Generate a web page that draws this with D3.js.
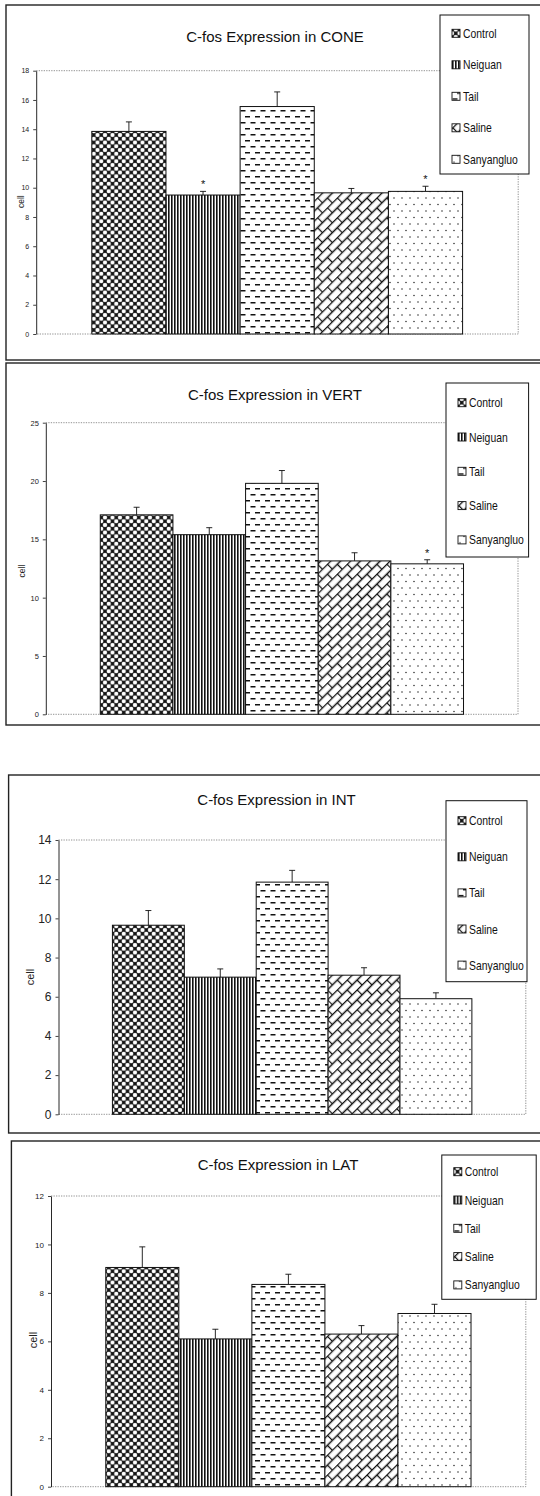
<!DOCTYPE html>
<html>
<head>
<meta charset="utf-8">
<script src="https://cdn.jsdelivr.net/npm/d3@7"></script>
<style>
  body { margin: 0; background: #fff; }
  svg { display: block; }
  .title { font-family: "Liberation Sans", Arial, sans-serif; fill: #111; }
  .legend text { font-family: "Liberation Sans", Arial, sans-serif; fill: #111; }
  .axis text { font-family: "Liberation Sans", Arial, sans-serif; fill: #222; }
  .ylab { font-family: "Liberation Sans", Arial, sans-serif; fill: #222; }
</style>
</head>
<body>
<script>
// groups shown in every panel
var groups = ["Control", "Neiguan", "Tail", "Saline", "Sanyangluo"];
var regions = ["CONE", "VERT", "INT", "LAT"];

// mean cell counts and error
var coneMean = [13.85, 9.5, 15.55, 9.65, 9.75];
var coneErr  = [0.65, 0.25, 1.0, 0.3, 0.35];
var coneStar = ["", "*", "", "", "*"];

var vertMean = [17.1, 15.4, 19.8, 13.15, 12.9];
var vertErr  = [0.65, 0.6, 1.1, 0.7, 0.35];
var vertStar = ["", "", "", "", "*"];

var intMean = [9.65, 7.0, 11.85, 7.1, 5.9];
var intErr  = [0.75, 0.42, 0.6, 0.38, 0.3];
var intStar = ["", "", "", "", ""];

var latMean = [9.05, 6.1, 8.35, 6.3, 7.15];
var latErr  = [0.85, 0.4, 0.42, 0.35, 0.38];
var latStar = ["", "", "", "", ""];

// y axis tick labels
var coneTicks = [0, 2, 4, 6, 8, 10, 12, 14, 16, 18];
var vertTicks = [0, 5, 10, 15, 20, 25];
var intTicks  = [0, 2, 4, 6, 8, 10, 12, 14];
var latTicks  = [0, 2, 4, 6, 8, 10, 12];

var means = [coneMean, vertMean, intMean, latMean];
var errs  = [coneErr, vertErr, intErr, latErr];
var stars = [coneStar, vertStar, intStar, latStar];
var ticks = [coneTicks, vertTicks, intTicks, latTicks];

// where each scanned panel sits on the page
var layout = [
  {frame: [6, 5, 560, 355],   plot: [36.2, 70.7, 518.2, 334],   titleX: 275, titleY: 37,
   tickFont: 7,   cellX: 20.7, cellY: 201.7, cellFont: 8.5,
   legend: [440, 15, 89, 159],   itemY: 33.3,   itemGap: 31.5},
  {frame: [6, 363, 560, 362], plot: [45.8, 422.7, 518, 714.3],  titleX: 275, titleY: 395,
   tickFont: 7.5, cellX: 22.4, cellY: 571, cellFont: 8.5,
   legend: [446, 383, 82.6, 174], itemY: 402.7, itemGap: 34.3},
  {frame: [8.6, 775, 560, 358], plot: [58.5, 840, 525.8, 1114.3], titleX: 276.5, titleY: 800,
   tickFont: 12,  cellX: 30.3, cellY: 977, cellFont: 11,
   legend: [446, 800.7, 81, 181], itemY: 820.7, itemGap: 36.1},
  {frame: [11.4, 1141, 560, 400], plot: [51, 1196, 525.8, 1486.7], titleX: 278, titleY: 1165,
   tickFont: 8,   cellX: 33.4, cellY: 1340, cellFont: 11,
   legend: [441.8, 1155, 94.4, 144.3], itemY: 1171.7, itemGap: 28.3}
];

var svg = d3.select("body").append("svg")
  .attr("width", 540)
  .attr("height", 1496);

svg.append("rect").attr("width", 540).attr("height", 1496).attr("fill", "#fff");

// hatch patterns, one per group
var defs = svg.append("defs");

var pCtrl = defs.append("pattern").attr("id", "pat-0")
  .attr("patternUnits", "userSpaceOnUse").attr("width", 7.5).attr("height", 7.5);
pCtrl.append("rect").attr("width", 7.5).attr("height", 7.5).attr("fill", "#111");
[[0, 0], [7.5, 0], [0, 7.5], [7.5, 7.5], [3.75, 3.75]].forEach(function(c) {
  pCtrl.append("circle").attr("cx", c[0]).attr("cy", c[1]).attr("r", 2.15).attr("fill", "#fff");
});

var pNei = defs.append("pattern").attr("id", "pat-1")
  .attr("patternUnits", "userSpaceOnUse").attr("width", 3).attr("height", 3);
pNei.append("rect").attr("width", 3).attr("height", 3).attr("fill", "#fff");
pNei.append("rect").attr("width", 1.6).attr("height", 3).attr("fill", "#111");

var pTail = defs.append("pattern").attr("id", "pat-2")
  .attr("patternUnits", "userSpaceOnUse").attr("width", 10).attr("height", 12);
pTail.append("rect").attr("width", 10).attr("height", 12).attr("fill", "#fff");
pTail.append("rect").attr("x", 0.5).attr("y", 2).attr("width", 5).attr("height", 1.5).attr("fill", "#111");
pTail.append("rect").attr("x", 5).attr("y", 8).attr("width", 5).attr("height", 1.5).attr("fill", "#111");

var pSal = defs.append("pattern").attr("id", "pat-3")
  .attr("patternUnits", "userSpaceOnUse").attr("width", 14).attr("height", 14)
  .attr("patternTransform", "rotate(-45)");
pSal.append("rect").attr("width", 14).attr("height", 14).attr("fill", "#fff");
pSal.append("path")
  .attr("d", "M0,0.5H14M0,7.5H14M0.5,0.5V7.5M7.5,7.5V14")
  .attr("stroke", "#111").attr("stroke-width", 1.3).attr("fill", "none");

var pSan = defs.append("pattern").attr("id", "pat-4")
  .attr("patternUnits", "userSpaceOnUse").attr("width", 8).attr("height", 13);
pSan.append("rect").attr("width", 8).attr("height", 13).attr("fill", "#fff");
pSan.append("circle").attr("cx", 2).attr("cy", 3).attr("r", 0.75).attr("fill", "#222");
pSan.append("circle").attr("cx", 6).attr("cy", 9.5).attr("r", 0.75).attr("fill", "#222");

// draw one panel
function panel(i) {
  var L = layout[i];
  var g = svg.append("g").attr("class", "panel");
  var l = L.plot[0], t = L.plot[1], r = L.plot[2], b = L.plot[3];
  var tv = ticks[i];

  // outer frame of the scanned figure
  g.append("rect")
    .attr("x", L.frame[0]).attr("y", L.frame[1])
    .attr("width", L.frame[2]).attr("height", L.frame[3])
    .attr("fill", "none").attr("stroke", "#222").attr("stroke-width", 1.4);

  var y = d3.scaleLinear().domain([0, d3.max(tv)]).range([b, t]);

  // single category holding the five bars
  var x0 = d3.scaleBand().domain(["all"]).range([l, r]).paddingInner(0).paddingOuter(0.15);
  var x = d3.scaleBand().domain(groups)
    .range([x0("all"), x0("all") + x0.bandwidth()]).padding(0);

  // dotted plot box (top, right, bottom)
  g.append("path")
    .attr("d", "M" + l + "," + t + "H" + r + "V" + b + "H" + l)
    .attr("fill", "none").attr("stroke", "#777")
    .attr("stroke-width", 0.8).attr("stroke-dasharray", "1.3,1.2");

  // title
  g.append("text").attr("class", "title")
    .attr("x", L.titleX).attr("y", L.titleY + 5)
    .attr("text-anchor", "middle").attr("font-size", 15)
    .text("C-fos Expression in " + regions[i]);

  // y axis
  var ax = g.append("g").attr("class", "axis")
    .attr("transform", "translate(" + l + ",0)")
    .call(d3.axisLeft(y).tickValues(tv).tickSize(3).tickSizeOuter(0).tickPadding(4));
  ax.selectAll("text").attr("font-size", L.tickFont);
  ax.select(".domain").attr("stroke", "#111").attr("stroke-width", 0.9);
  ax.selectAll(".tick line").attr("stroke", "#111").attr("stroke-width", 0.8);

  g.append("text").attr("class", "ylab")
    .attr("transform", "translate(" + L.cellX + "," + L.cellY + ") rotate(-90)")
    .attr("text-anchor", "middle").attr("dy", "0.35em")
    .attr("font-size", L.cellFont)
    .text("cell");

  var rows = groups.map(function(name, k) {
    return {name: name, k: k, v: means[i][k], e: errs[i][k], s: stars[i][k]};
  });

  // error bars, upper side only
  var eb = g.selectAll(".err").data(rows).enter().append("g").attr("class", "err");
  eb.append("line")
    .attr("x1", function(d) { return x(d.name) + x.bandwidth() / 2; })
    .attr("x2", function(d) { return x(d.name) + x.bandwidth() / 2; })
    .attr("y1", function(d) { return y(d.v); })
    .attr("y2", function(d) { return y(d.v + d.e); })
    .attr("stroke", "#111").attr("stroke-width", 0.9);
  eb.append("line")
    .attr("x1", function(d) { return x(d.name) + x.bandwidth() / 2 - 3; })
    .attr("x2", function(d) { return x(d.name) + x.bandwidth() / 2 + 3; })
    .attr("y1", function(d) { return y(d.v + d.e); })
    .attr("y2", function(d) { return y(d.v + d.e); })
    .attr("stroke", "#111").attr("stroke-width", 0.9);

  // bars
  g.selectAll(".bar").data(rows).enter().append("rect")
    .attr("class", "bar")
    .attr("x", function(d) { return x(d.name); })
    .attr("y", function(d) { return y(d.v); })
    .attr("width", x.bandwidth())
    .attr("height", function(d) { return y(0) - y(d.v); })
    .attr("fill", function(d) { return "url(#pat-" + d.k + ")"; })
    .attr("stroke", "#111").attr("stroke-width", 1);

  // significance stars
  g.selectAll(".star").data(rows.filter(function(d) { return d.s != ""; }))
    .enter().append("text")
    .attr("class", "title")
    .attr("x", function(d) { return x(d.name) + x.bandwidth() / 2; })
    .attr("y", function(d) { return y(d.v + d.e) - 3; })
    .attr("text-anchor", "middle").attr("font-size", 11)
    .text(function(d) { return d.s; });

  // legend box
  var lg = g.append("g").attr("class", "legend");
  lg.append("rect")
    .attr("x", L.legend[0]).attr("y", L.legend[1])
    .attr("width", L.legend[2]).attr("height", L.legend[3])
    .attr("fill", "#fff").attr("stroke", "#111").attr("stroke-width", 1);
  var items = lg.selectAll(".item").data(rows).enter().append("g")
    .attr("transform", function(d) {
      return "translate(" + (L.legend[0] + 12) + "," + (L.itemY + d.k * L.itemGap) + ")";
    });
  items.append("rect")
    .attr("x", 0).attr("y", -4).attr("width", 8).attr("height", 8)
    .attr("fill", function(d) { return "url(#pat-" + d.k + ")"; })
    .attr("stroke", "#111").attr("stroke-width", 0.9);
  // the scan uses a narrow face, so squeeze the label horizontally
  items.append("text")
    .attr("transform", "translate(11,0) scale(0.8,1)")
    .attr("dy", "0.35em")
    .attr("font-size", 13)
    .text(function(d) { return d.name; });
}

for (var i = 0; i < layout.length; i++) {
  panel(i);
}
</script>
</body>
</html>
